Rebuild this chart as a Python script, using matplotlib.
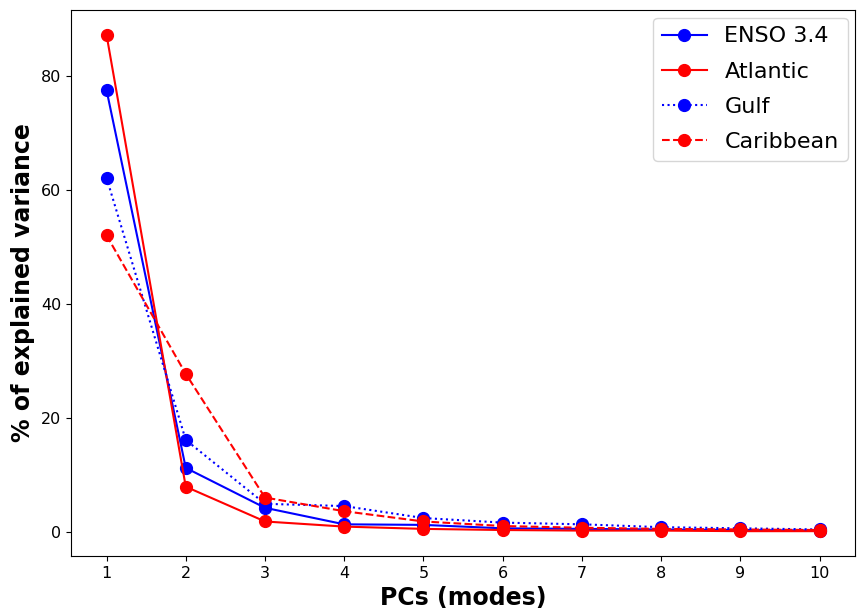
import matplotlib
matplotlib.use("Agg")
import matplotlib.pyplot as plt
import numpy as np

# explained variance (%) of the first 10 PCs for each region
modes = np.arange(1, 11)
enso = [77.5, 11.2, 4.2, 1.3, 1.2, 0.6, 0.5, 0.4, 0.3, 0.2]
atlantic = [87.2, 7.9, 1.8, 0.9, 0.5, 0.3, 0.2, 0.2, 0.1, 0.1]
gulf = [62.1, 16.1, 4.9, 4.5, 2.4, 1.6, 1.3, 0.8, 0.6, 0.4]
caribbean = [52.0, 27.7, 6.0, 3.6, 1.8, 1.0, 0.7, 0.5, 0.4, 0.3]

fig, ax = plt.subplots(figsize=(8.64, 6.13), dpi=100)
fig.subplots_adjust(left=0.082, right=0.99, top=0.984, bottom=0.093)

ax.plot(modes, enso, 'b-o', markersize=8.5, label='ENSO 3.4')
ax.plot(modes, atlantic, 'r-o', markersize=8.5, label='Atlantic')
ax.plot(modes, gulf, 'b:o', markersize=8.5, label='Gulf')
ax.plot(modes, caribbean, 'r--o', markersize=8.5, label='Caribbean')

ax.set_xticks(modes)
ax.tick_params(labelsize=11.5)
ax.set_xlabel('PCs (modes)', fontsize=17, fontweight='bold')
ax.set_ylabel('% of explained variance', fontsize=17, fontweight='bold')
ax.legend(fontsize=16, loc='upper right', labelspacing=0.68, borderaxespad=0.35)

plt.savefig('out.png')
